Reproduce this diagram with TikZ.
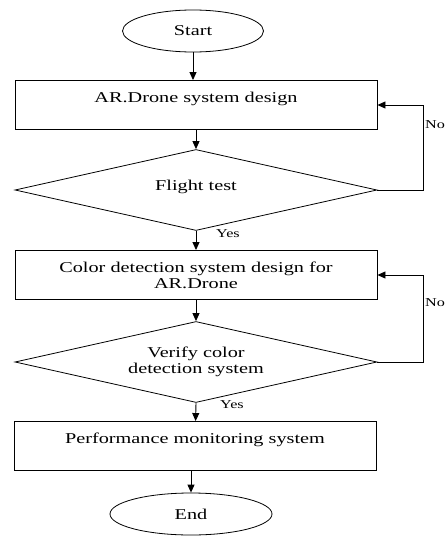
\documentclass[tikz,border=0pt]{standalone}
\usepackage{fontspec}
\setmainfont{Liberation Serif}[FakeStretch=1.35]
\usetikzlibrary{arrows.meta,shapes.geometric}

\begin{document}
\begin{tikzpicture}[x=1pt,y=-1pt]
\tikzset{
  termnode/.style={ellipse,draw,line width=0.8pt,minimum width=141pt,minimum height=42pt,inner sep=0pt,font=\fontsize{15}{16}\selectfont},
  procnode/.style={rectangle,draw,line width=0.9pt,minimum width=362pt,minimum height=49pt,inner sep=0pt,align=center,font=\fontsize{15}{16}\selectfont},
  decnode/.style={diamond,aspect=4.47,draw,line width=0.8pt,minimum width=362pt,minimum height=81pt,inner sep=0pt,align=center,font=\fontsize{15}{16}\selectfont},
  flowarrow/.style={-{Triangle[length=8pt,width=7pt]},line width=0.9pt},
  edgelabel/.style={anchor=west,inner sep=0pt,font=\fontsize{12}{13}\selectfont}
}
\useasboundingbox (0,0) rectangle (446,538);
\node[termnode] (n_start) at (193,31) {Start};
\node[procnode] (n_design) at (196,105) {AR.Drone system design\\ };
\node[decnode] (n_flight) at (196,190) {\raisebox{9pt}{Flight test}};
\node[procnode] (n_color) at (196,275) {Color detection system design for\\AR.Drone};
\node[decnode] (n_verify) at (196,362) {Verify color\\detection system};
\node[procnode] (n_monitor) at (195,446) {Performance monitoring system\\ };
\node[termnode,minimum width=162pt] (n_end) at (191,514) {End};
\draw[flowarrow] (n_start.south) -- (n_start.south |- n_design.north);
\draw[flowarrow] (n_design) -- (n_flight.north);
\draw[flowarrow] (n_flight.south) -- (n_color);
\draw[flowarrow] (n_color) -- (n_verify.north);
\draw[flowarrow] (n_verify.south) -- (n_monitor);
\draw[flowarrow] (n_monitor.south -| n_end) -- (n_end.north);
\draw[flowarrow] (n_flight.east) -- ++(46,0) |- (n_design.east);
\draw[flowarrow] (n_verify.east) -- ++(46,0) |- (n_color.east);
\node[edgelabel] (l_yes1) at (216,234) {Yes};
\node[edgelabel] (l_yes2) at (220,405) {Yes};
\node[edgelabel] (l_no1) at (425,125) {No};
\node[edgelabel] (l_no2) at (425,303) {No};
\end{tikzpicture}
\end{document}
